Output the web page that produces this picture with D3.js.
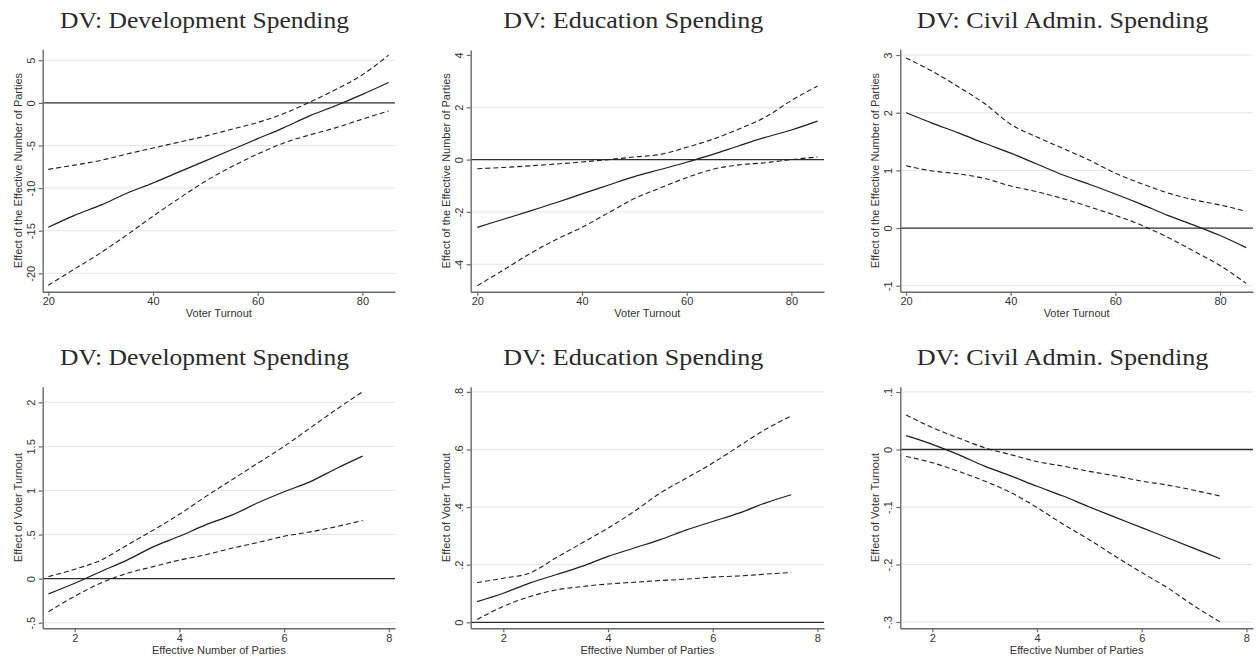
<!DOCTYPE html>
<html>
<head>
<meta charset="utf-8">
<script src="https://cdn.jsdelivr.net/npm/d3@7"></script>
<style>
  html, body { margin: 0; padding: 0; background: #fff; }
  svg { display: block; }
</style>
</head>
<body>
<svg id="chart" width="1256" height="659"></svg>
<script>
// ---- Data: marginal effects with 95% confidence bounds ----

// Top row: effect of the effective number of parties across voter turnout
const turnout = [20, 25, 30, 35, 40, 45, 50, 55, 60, 65, 70, 75, 80, 85];

const devEnpEst = [-14.6, -13.2, -12.0, -10.6, -9.4, -8.1, -6.8, -5.5, -4.2, -2.9, -1.5, -0.3, 1.0, 2.4];
const devEnpHi  = [-7.8, -7.3, -6.75, -6.0, -5.3, -4.6, -3.9, -3.1, -2.3, -1.25, 0.1, 1.6, 3.3, 5.6];
const devEnpLo  = [-21.4, -19.5, -17.6, -15.5, -13.3, -11.2, -9.2, -7.5, -6.0, -4.7, -3.75, -2.9, -1.9, -0.94];

const eduEnpEst = [-2.59, -2.28, -1.97, -1.65, -1.31, -0.98, -0.65, -0.38, -0.1, 0.2, 0.53, 0.85, 1.13, 1.47];
const eduEnpHi  = [-0.35, -0.3, -0.24, -0.17, -0.09, 0.0, 0.1, 0.2, 0.47, 0.78, 1.17, 1.62, 2.26, 2.81];
const eduEnpLo  = [-4.82, -4.22, -3.6, -3.06, -2.59, -2.04, -1.49, -1.08, -0.69, -0.37, -0.2, -0.12, 0.0, 0.1];

const civEnpEst = [2.0, 1.82, 1.65, 1.47, 1.3, 1.11, 0.92, 0.76, 0.59, 0.41, 0.22, 0.05, -0.13, -0.34];
const civEnpHi  = [2.95, 2.72, 2.45, 2.16, 1.8, 1.58, 1.38, 1.18, 0.95, 0.77, 0.61, 0.49, 0.4, 0.29];
const civEnpLo  = [1.08, 0.99, 0.94, 0.86, 0.73, 0.63, 0.51, 0.37, 0.22, 0.05, -0.16, -0.4, -0.65, -0.96];

// Bottom row: effect of voter turnout across the effective number of parties
const parties = [1.5, 2, 2.5, 3, 3.5, 4, 4.5, 5, 5.5, 6, 6.5, 7, 7.5];

const devTurnEst = [-0.174, -0.053, 0.08, 0.21, 0.36, 0.48, 0.61, 0.72, 0.86, 0.985, 1.10, 1.25, 1.39];
const devTurnHi  = [0.023, 0.106, 0.21, 0.38, 0.55, 0.73, 0.93, 1.12, 1.31, 1.5, 1.71, 1.92, 2.12];
const devTurnLo  = [-0.375, -0.2, -0.05, 0.06, 0.136, 0.21, 0.27, 0.345, 0.41, 0.48, 0.53, 0.59, 0.66];

const eduTurnEst = [0.072, 0.101, 0.136, 0.165, 0.194, 0.229, 0.258, 0.287, 0.321, 0.35, 0.379, 0.414, 0.443];
const eduTurnHi  = [0.138, 0.153, 0.171, 0.223, 0.275, 0.327, 0.385, 0.449, 0.501, 0.553, 0.611, 0.669, 0.716];
const eduTurnLo  = [0.01, 0.055, 0.089, 0.112, 0.124, 0.133, 0.139, 0.145, 0.15, 0.157, 0.161, 0.167, 0.173];

const civTurnEst = [0.024, 0.009, -0.009, -0.029, -0.046, -0.064, -0.081, -0.1, -0.118, -0.136, -0.154, -0.172, -0.19];
const civTurnHi  = [0.06, 0.038, 0.02, 0.003, -0.009, -0.021, -0.029, -0.038, -0.046, -0.055, -0.062, -0.071, -0.081];
const civTurnLo  = [-0.012, -0.023, -0.038, -0.055, -0.075, -0.101, -0.13, -0.157, -0.186, -0.214, -0.241, -0.272, -0.3];

// Titles and axis labels
const titles = ["DV: Development Spending", "DV: Education Spending", "DV: Civil Admin. Spending"];
const topXTitle = "Voter Turnout";
const topYTitle = "Effect of the Effective Number of Parties";
const botXTitle = "Effective Number of Parties";
const botYTitle = "Effect of Voter Turnout";

// Tick values and their printed labels
const topXTicks = [20, 40, 60, 80];
const topXLabels = ["20", "40", "60", "80"];
const botXTicks = [2, 4, 6, 8];
const botXLabels = ["2", "4", "6", "8"];

const devEnpYTicks = [-20, -15, -10, -5, 0, 5];
const devEnpYLabels = ["-20", "-15", "-10", "-5", "0", "5"];
const eduEnpYTicks = [-4, -2, 0, 2, 4];
const eduEnpYLabels = ["-4", "-2", "0", "2", "4"];
const civEnpYTicks = [-1, 0, 1, 2, 3];
const civEnpYLabels = ["-1", "0", "1", "2", "3"];
const devTurnYTicks = [-0.5, 0, 0.5, 1, 1.5, 2];
const devTurnYLabels = ["-.5", "0", ".5", "1", "1.5", "2"];
const eduTurnYTicks = [0, 0.2, 0.4, 0.6, 0.8];
const eduTurnYLabels = ["0", ".2", ".4", ".6", ".8"];
const civTurnYTicks = [-0.3, -0.2, -0.1, 0, 0.1];
const civTurnYLabels = ["-.3", "-.2", "-.1", "0", ".1"];

// ---- Panel layout (plot-region pixel boxes and axis ranges) ----
const panels = [
  { box: [42.7, 395, 49.3, 291.7], xDom: [18.93, 86.23], yDom: [-22.16, 6.29], titleX: 204.5, titleY: 28, titleW: 289,
    x: turnout, est: devEnpEst, hi: devEnpHi, lo: devEnpLo, xt: topXTicks, xl: topXLabels,
    yt: devEnpYTicks, yl: devEnpYLabels, noGrid: [0], title: titles[0], xTitle: topXTitle, yTitle: topYTitle },
  { box: [470.7, 824, 50, 291.7], xDom: [18.74, 86.23], yDom: [-5.05, 4.19], titleX: 633.3, titleY: 28, titleW: 260,
    x: turnout, est: eduEnpEst, hi: eduEnpHi, lo: eduEnpLo, xt: topXTicks, xl: topXLabels,
    yt: eduEnpYTicks, yl: eduEnpYLabels, noGrid: [0, 4], title: titles[1], xTitle: topXTitle, yTitle: topYTitle },
  { box: [900.3, 1253, 49.3, 291.7], xDom: [18.91, 86.3], yDom: [-1.104, 3.1], titleX: 1062.5, titleY: 28, titleW: 291.7,
    x: turnout, est: civEnpEst, hi: civEnpHi, lo: civEnpLo, xt: topXTicks, xl: topXLabels,
    yt: civEnpYTicks, yl: civEnpYLabels, noGrid: [0], title: titles[2], xTitle: topXTitle, yTitle: topYTitle },
  { box: [42.7, 395, 386.7, 628.3], xDom: [1.389, 8.118], yDom: [-0.5635, 2.177], titleX: 204.5, titleY: 365, titleW: 289,
    x: parties, est: devTurnEst, hi: devTurnHi, lo: devTurnLo, xt: botXTicks, xl: botXLabels,
    yt: devTurnYTicks, yl: devTurnYLabels, noGrid: [0], title: titles[0], xTitle: botXTitle, yTitle: botYTitle },
  { box: [470.7, 824, 386.7, 628.3], xDom: [1.377, 8.126], yDom: [-0.0208, 0.818], titleX: 633.3, titleY: 365, titleW: 260,
    x: parties, est: eduTurnEst, hi: eduTurnHi, lo: eduTurnLo, xt: botXTicks, xl: botXLabels,
    yt: eduTurnYTicks, yl: eduTurnYLabels, noGrid: [0], title: titles[1], xTitle: botXTitle, yTitle: botYTitle },
  { box: [900.3, 1253, 386.7, 628.3], xDom: [1.389, 8.126], yDom: [-0.311, 0.1092], titleX: 1062.5, titleY: 365, titleW: 291.7,
    x: parties, est: civTurnEst, hi: civTurnHi, lo: civTurnLo, xt: botXTicks, xl: botXLabels,
    yt: civTurnYTicks, yl: civTurnYLabels, noGrid: [0], title: titles[2], xTitle: botXTitle, yTitle: botYTitle }
];

const svg = d3.select("#chart");
const sans = "'Liberation Sans', Arial, Helvetica, sans-serif";
const serif = "'Liberation Serif', 'Times New Roman', serif";
const axisColor = "#6a6a6a";
const textColor = "#333";

panels.forEach(p => {
  const [left, right, top, bottom] = p.box;
  const x = d3.scaleLinear().domain(p.xDom).range([left, right]);
  const y = d3.scaleLinear().domain(p.yDom).range([bottom, top]);
  const g = svg.append("g");

  // Title
  g.append("text")
    .attr("x", p.titleX).attr("y", p.titleY)
    .attr("text-anchor", "middle")
    .attr("font-family", serif).attr("font-size", 23)
    .attr("fill", "#2a2a2a")
    .attr("textLength", p.titleW).attr("lengthAdjust", "spacingAndGlyphs")
    .text(p.title);

  // Horizontal grid lines
  g.append("g").selectAll("line")
    .data(p.yt.filter(v => !p.noGrid.includes(v)))
    .join("line")
    .attr("x1", left).attr("x2", right)
    .attr("y1", d => y(d)).attr("y2", d => y(d))
    .attr("stroke", "#e4e4e4").attr("stroke-width", 1);

  // Reference line at zero
  g.append("line")
    .attr("x1", left).attr("x2", right)
    .attr("y1", y(0)).attr("y2", y(0))
    .attr("stroke", "#2e2e2e").attr("stroke-width", 1.3);

  // Confidence bounds and point estimate
  const line = d3.line().x((d, i) => x(p.x[i])).y(d => y(d)).curve(d3.curveMonotoneX);
  [p.hi, p.lo].forEach(series => {
    g.append("path").datum(series)
      .attr("d", line)
      .attr("fill", "none")
      .attr("stroke", "#1e1e1e").attr("stroke-width", 1.1)
      .attr("stroke-dasharray", "5,3");
  });
  g.append("path").datum(p.est)
    .attr("d", line)
    .attr("fill", "none")
    .attr("stroke", "#1e1e1e").attr("stroke-width", 1.2);

  // X axis
  const xAxis = d3.axisBottom(x)
    .tickValues(p.xt)
    .tickFormat((d, i) => p.xl[i])
    .tickSizeInner(4).tickSizeOuter(0).tickPadding(2);
  const gx = g.append("g").attr("transform", `translate(0,${bottom})`).call(xAxis);
  gx.select(".domain").attr("stroke", axisColor).attr("stroke-width", 1.4);
  gx.selectAll(".tick line").attr("stroke", axisColor).attr("stroke-width", 1.2);
  gx.selectAll(".tick text")
    .attr("font-family", sans).attr("font-size", 11).attr("fill", textColor);

  // Y axis with vertical tick labels
  const yAxis = d3.axisLeft(y)
    .tickValues(p.yt)
    .tickFormat((d, i) => p.yl[i])
    .tickSizeInner(4).tickSizeOuter(0);
  const gy = g.append("g").attr("transform", `translate(${left},0)`).call(yAxis);
  gy.select(".domain").attr("stroke", axisColor).attr("stroke-width", 1.4);
  gy.selectAll(".tick line").attr("stroke", axisColor).attr("stroke-width", 1.2);
  gy.selectAll(".tick text")
    .attr("x", null).attr("dy", null)
    .attr("transform", "translate(-12,0) rotate(-90)")
    .attr("text-anchor", "middle")
    .attr("dy", "0.36em")
    .attr("font-family", sans).attr("font-size", 11).attr("fill", textColor);

  // Axis titles
  g.append("text")
    .attr("x", (left + right) / 2).attr("y", bottom + 25.5)
    .attr("text-anchor", "middle")
    .attr("font-family", sans).attr("font-size", 11).attr("fill", textColor)
    .text(p.xTitle);
  g.append("text")
    .attr("transform", `translate(${left - 25},${(top + bottom) / 2}) rotate(-90)`)
    .attr("dy", "0.36em")
    .attr("text-anchor", "middle")
    .attr("font-family", sans).attr("font-size", 11).attr("fill", textColor)
    .text(p.yTitle);
});
</script>
</body>
</html>
